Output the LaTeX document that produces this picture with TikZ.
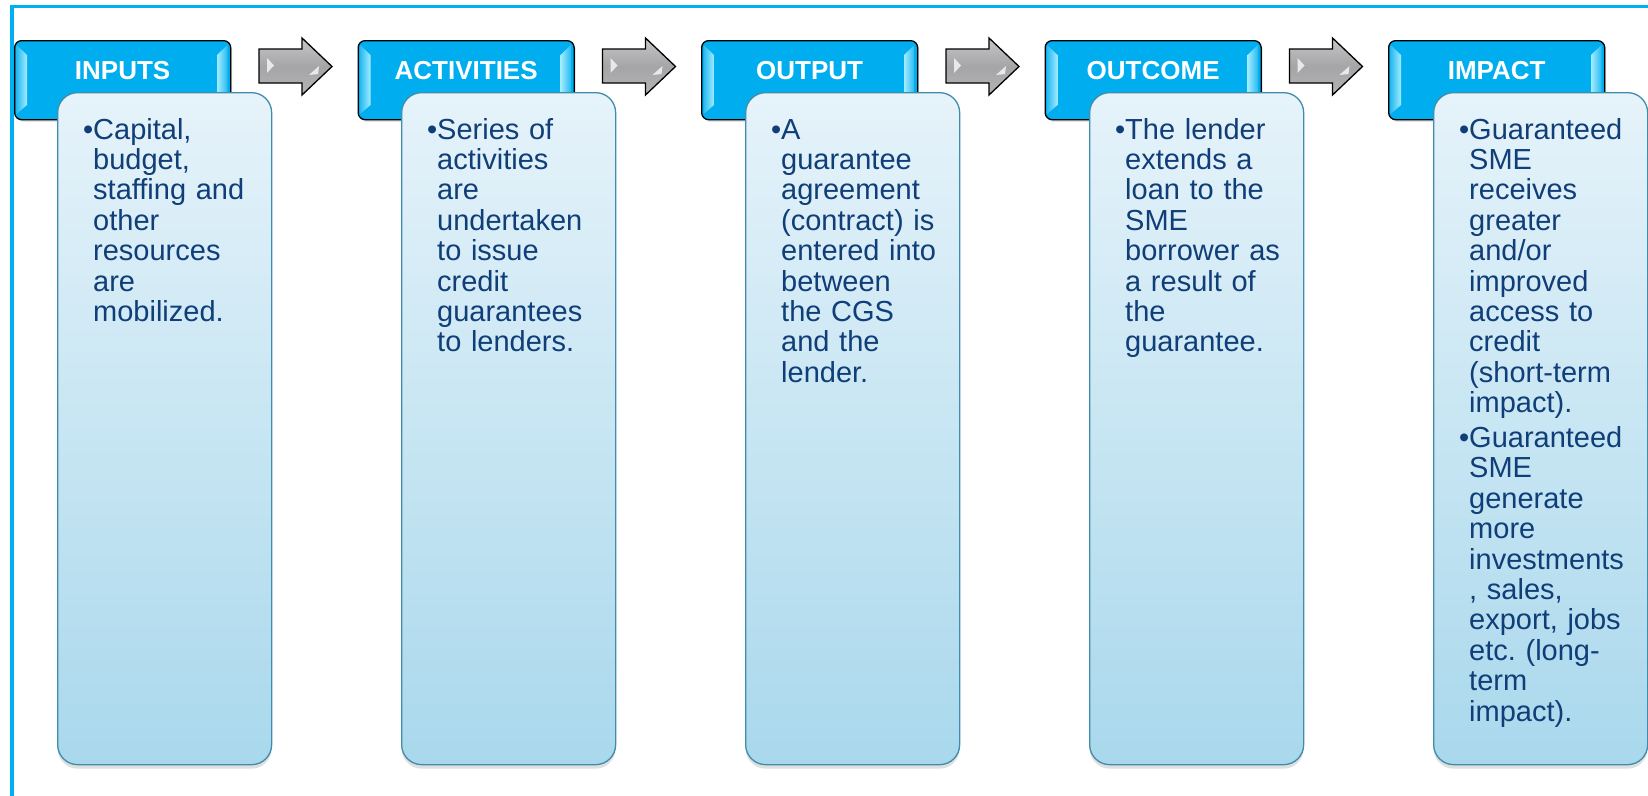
\documentclass[tikz,border=0pt]{standalone}
\usepackage{fontspec}
\setmainfont{Liberation Sans}
\usetikzlibrary{shadows}

\definecolor{framecol}{HTML}{00B0F0}
\definecolor{hdr}{HTML}{00AEEF}
\definecolor{hdrlight}{HTML}{A3ECFF}
\definecolor{boxtop}{HTML}{E6F3FA}
\definecolor{boxbot}{HTML}{A9D8EC}
\definecolor{boxline}{HTML}{3F8DAA}
\definecolor{ink}{HTML}{0F3E78}
\definecolor{arrtop}{HTML}{C6C6C8}
\definecolor{arrmid}{HTML}{A5A5A7}
\definecolor{arrbot}{HTML}{B4B4B6}

\tikzset{
  header/.style={draw=black, line width=1.3pt, fill=hdr, rounded corners=7pt,
    minimum width=216pt, minimum height=79pt, anchor=north west, inner sep=0pt,
    drop shadow={shadow xshift=1.5pt, shadow yshift=-2pt, opacity=0.3}},
  panel/.style={draw=boxline, line width=1.3pt, top color=boxtop, bottom color=boxbot,
    rounded corners=20pt, minimum width=214pt, minimum height=672pt,
    anchor=north west, inner sep=0pt,
    drop shadow={shadow xshift=0pt, shadow yshift=-4pt, opacity=0.25}},
  title/.style={text=white, font=\fontsize{26}{28}\selectfont\bfseries,
    anchor=base, inner sep=0pt},
  body/.style={text=ink, font=\fontsize{29}{30.4}\selectfont\frenchspacing,
    text width=200pt, align=left, anchor=base west, inner sep=0pt},
  bevelL/.style={left color=hdr!85!white, right color=hdrlight},
  bevelR/.style={left color=hdrlight, right color=hdr!85!white},
  blockarrow/.style={draw=black, line width=1.3pt, line join=miter,
    top color=arrtop, bottom color=arrbot, middle color=arrmid},
  gleam/.style={fill=white, opacity=0.75},
}

% bullet hanging to the left of the text column
\newcommand{\bul}{\leavevmode\llap{•}}

\begin{document}
\begin{tikzpicture}[x=1pt, y=-1pt]
  \useasboundingbox (0,0) rectangle (1648,795);
  \clip (0,0) rectangle (1648,795);
  \fill[white] (0,0) rectangle (1648,795);

  % outer frame (runs off the right and bottom edges)
  \draw[framecol, line width=3.5pt] (12,830) -- (12,6.5) -- (1680,6.5);

  % stage headers with bevelled sides
  \foreach \i in {1,...,5} {
    \pgfmathsetmacro{\X}{14+343.5*(\i-1)}
    \node[header] (h\i) at (\X,40) {};
    \shade[bevelL] (\X+2.5,45) -- (\X+13,55) -- (\X+13,105) -- (\X+2.5,114) -- cycle;
    \shade[bevelR] (\X+213.5,45) -- (\X+203,55) -- (\X+203,105) -- (\X+213.5,114) -- cycle;
  }

  % content panels
  \foreach \i in {1,...,5} {
    \pgfmathsetmacro{\C}{57+344*(\i-1)}
    \node[panel] (c\i) at (\C,92) {};
  }

  % grey block arrows between the headers
  \foreach \i in {1,...,4} {
    \pgfmathsetmacro{\A}{259+343.5*(\i-1)}
    \draw[blockarrow] (\A,49) -- (\A+43,49) -- (\A+43,38) -- (\A+73,66.5)
      -- (\A+43,95) -- (\A+43,83) -- (\A,83) -- cycle;
    \fill[gleam] (\A+8,58) -- (\A+15,65.5) -- (\A+8,73) -- cycle;
    \fill[gleam] (\A+50,75) -- (\A+60,66) -- (\A+59,74) -- cycle;
  }

  % header titles
  \node[title] (l1) at ([yshift=-39pt]h1.north) {INPUTS};
  \node[title] (l2) at ([yshift=-39pt]h2.north) {ACTIVITIES};
  \node[title] (l3) at ([yshift=-39pt]h3.north) {OUTPUT};
  \node[title] (l4) at ([yshift=-39pt]h4.north) {OUTCOME};
  \node[title] (l5) at ([yshift=-39pt]h5.north) {IMPACT};

  % panel texts
  \node[body] (t1) at ([xshift=36pt,yshift=-47pt]c1.north west)
    {\bul Capital,\\budget,\\staffing and\\other\\resources\\are\\mobilized.};
  \node[body] (t2) at ([xshift=36pt,yshift=-47pt]c2.north west)
    {\bul Series of\\activities\\are\\undertaken\\to issue\\credit\\guarantees\\to lenders.};
  \node[body] (t3) at ([xshift=36pt,yshift=-47pt]c3.north west)
    {\bul A\\guarantee\\agreement\\(contract) is\\entered into\\between\\the CGS\\and the\\lender.};
  \node[body] (t4) at ([xshift=36pt,yshift=-47pt]c4.north west)
    {\bul The lender\\extends a\\loan to the\\SME\\borrower as\\a result of\\the\\guarantee.};
  \node[body] (t5) at ([xshift=36pt,yshift=-47pt]c5.north west)
    {\bul Guaranteed\\SME\\receives\\greater\\and/or\\improved\\access to\\credit\\(short-term\\impact).\\[4.5pt]\bul Guaranteed\\SME\\generate\\more\\investments\\, sales,\\export, jobs\\etc. (long-\\term\\impact).};
\end{tikzpicture}
\end{document}
